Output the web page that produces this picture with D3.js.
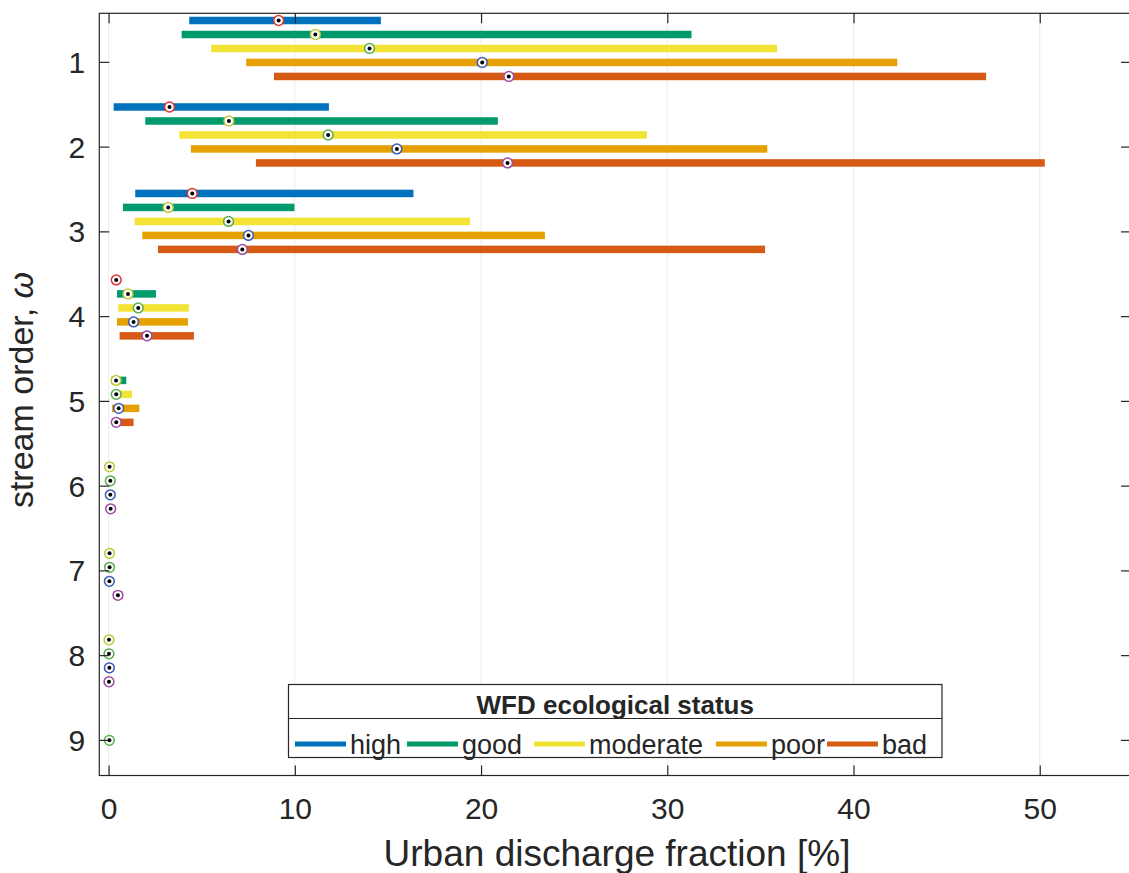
<!DOCTYPE html>
<html>
<head>
<meta charset="utf-8">
<script src="https://cdn.jsdelivr.net/npm/d3@7"></script>
<style>
  html, body { margin: 0; padding: 0; background: #fff; }
  svg { display: block; }
  text { font-family: "Liberation Sans", Arial, Helvetica, sans-serif; fill: #262626; }
</style>
</head>
<body>
<svg id="chart" width="1129" height="873"></svg>
<script>
// ---------------- data ----------------
const statuses = ["high", "good", "moderate", "poor", "bad"];
const streamOrders = [1, 2, 3, 4, 5, 6, 7, 8, 9];
const xTicks = [0, 10, 20, 30, 40, 50];
const yTicks = [1, 2, 3, 4, 5, 6, 7, 8, 9];

// lower bound, median and upper bound of urban discharge fraction [%] per stream order
const highLow    = [4.33, 0.27, 1.43, 0.41, null, null, null, null, null];
const highMed    = [9.13, 3.27, 4.49, 0.41, null, null, null, null, null];
const highHigh   = [14.62, 11.83, 16.37, 0.41, null, null, null, null, null];

const goodLow    = [3.92, 1.97, 0.77, 0.45, 0.15, 0.0, 0.0, 0.0, null];
const goodMed    = [11.1, 6.46, 3.2, 1.04, 0.40, 0.05, 0.05, 0.02, null];
const goodHigh   = [31.3, 20.9, 9.98, 2.54, 0.95, 0.1, 0.1, 0.05, null];

const moderateLow  = [5.51, 3.80, 1.40, 0.52, 0.15, 0.02, 0.0, 0.0, 0.0];
const moderateMed  = [14.01, 11.79, 6.44, 1.59, 0.41, 0.09, 0.05, 0.02, 0.04];
const moderateHigh = [35.9, 28.9, 19.4, 4.31, 1.26, 0.2, 0.1, 0.05, 0.06];

const poorLow    = [7.39, 4.42, 1.81, 0.45, 0.18, 0.02, 0.0, 0.0, null];
const poorMed    = [20.06, 15.48, 7.51, 1.34, 0.54, 0.09, 0.04, 0.04, null];
const poorHigh   = [42.35, 35.37, 23.43, 4.26, 1.65, 0.2, 0.1, 0.08, null];

const badLow     = [8.88, 7.91, 2.65, 0.59, 0.2, 0.05, 0.24, 0.0, null];
const badMed     = [21.49, 21.42, 7.18, 2.06, 0.41, 0.11, 0.5, 0.02, null];
const badHigh    = [47.12, 50.27, 35.25, 4.58, 1.34, 0.2, 0.77, 0.05, null];

const barColors    = ["#0072BD", "#009A6C", "#F2E334", "#E6A000", "#D65A14"];
const markerColors = ["#E0342C", "#C2C83A", "#58AF4E", "#3D5BB5", "#9C4DA2"];

const seriesLow  = [highLow, goodLow, moderateLow, poorLow, badLow];
const seriesMed  = [highMed, goodMed, moderateMed, poorMed, badMed];
const seriesHigh = [highHigh, goodHigh, moderateHigh, poorHigh, badHigh];

(function () {
// ---------------- layout ----------------
const svg = d3.select("#chart");
const pL = 99.3, pR = 1131, pT = 13.3, pB = 775.5;

const x = d3.scaleLinear().domain([-0.5, 54.9]).range([pL, pR]);
const y = d3.scaleLinear().domain([0.427, 9.42]).range([pT, pB]);

// row position within each stream-order group
const rowPos = (w, k) => w - 0.488 + (w - 1) * 0.0203 + k * 0.165;

const rows = [];
statuses.forEach((s, k) => {
  streamOrders.forEach((w, i) => {
    if (seriesMed[k][i] == null) return;
    rows.push({ status: s, k, w, lo: seriesLow[k][i], med: seriesMed[k][i], hi: seriesHigh[k][i] });
  });
});

// grid
svg.append("g").selectAll("line").data(xTicks).join("line")
  .attr("x1", d => x(d)).attr("x2", d => x(d))
  .attr("y1", pT).attr("y2", pB)
  .attr("stroke", "#ebebeb").attr("stroke-width", 1);

// bars
const barH = 7.5;
svg.append("g").selectAll("rect").data(rows).join("rect")
  .attr("x", d => x(d.lo))
  .attr("width", d => Math.max(0, x(d.hi) - x(d.lo)))
  .attr("y", d => y(rowPos(d.w, d.k)) - barH / 2)
  .attr("height", barH)
  .attr("fill", d => barColors[d.k]);

// markers
const mk = svg.append("g").selectAll("g").data(rows).join("g")
  .attr("transform", d => `translate(${x(d.med)},${y(rowPos(d.w, d.k))})`);
mk.append("circle").attr("r", 4.9).attr("fill", "#fff")
  .attr("stroke", d => markerColors[d.k]).attr("stroke-width", 1.5);
mk.append("circle").attr("r", 2).attr("fill", "#000");

// axes
const axCol = "#262626";
const tickLen = 10;
svg.append("rect").attr("x", pL).attr("y", pT).attr("width", pR - pL).attr("height", pB - pT)
  .attr("fill", "none").attr("stroke", axCol).attr("stroke-width", 1.2);

const gb = svg.append("g").attr("transform", `translate(0,${pB})`)
  .call(d3.axisBottom(x).tickValues(xTicks).tickSizeInner(-tickLen).tickSizeOuter(0).tickPadding(22));
const gt = svg.append("g").attr("transform", `translate(0,${pT})`)
  .call(d3.axisTop(x).tickValues(xTicks).tickSizeInner(-tickLen).tickSizeOuter(0).tickFormat(""));
const gl = svg.append("g").attr("transform", `translate(${pL},0)`)
  .call(d3.axisLeft(y).tickValues(yTicks).tickSizeInner(-tickLen).tickSizeOuter(0).tickPadding(14));
const gr = svg.append("g").attr("transform", `translate(${pR},0)`)
  .call(d3.axisRight(y).tickValues(yTicks).tickSizeInner(-tickLen).tickSizeOuter(0).tickFormat(""));

[gb, gt, gl, gr].forEach(g => {
  g.select(".domain").remove();
  g.selectAll(".tick line").attr("stroke", axCol).attr("stroke-width", 1.2);
  g.selectAll(".tick text").attr("font-size", 30).attr("fill", axCol)
    .style("font-family", '"Liberation Sans", Arial, sans-serif');
});
gb.selectAll(".tick text").attr("dy", "0.71em");
gl.selectAll(".tick text").attr("dy", "0.35em");

// axis labels
svg.append("text")
  .attr("x", 617).attr("y", 866)
  .attr("text-anchor", "middle").attr("font-size", 37)
  .text("Urban discharge fraction [%]");

const yl = svg.append("text")
  .attr("transform", `translate(33,390) rotate(-90)`)
  .attr("text-anchor", "middle").attr("font-size", 34);
yl.append("tspan").text("stream order, ");
yl.append("tspan").attr("font-style", "italic").text("ω");

// legend
const lg = svg.append("g");
const lx0 = 288.5, lx1 = 942, ly0 = 684.5, ly1 = 757.5, ldiv = 718.5;
lg.append("rect").attr("x", lx0).attr("y", ly0).attr("width", lx1 - lx0).attr("height", ly1 - ly0)
  .attr("fill", "#fff").attr("stroke", axCol).attr("stroke-width", 1.2);
lg.append("line").attr("x1", lx0).attr("x2", lx1).attr("y1", ldiv).attr("y2", ldiv)
  .attr("stroke", axCol).attr("stroke-width", 1.2);
lg.append("text").attr("x", (lx0 + lx1) / 2).attr("y", 714)
  .attr("text-anchor", "middle").attr("font-size", 26).attr("font-weight", "bold")
  .text("WFD ecological status");

const legendStarts = [295, 407, 534, 716, 827];
const le = lg.selectAll("g.entry").data(statuses).join("g").attr("class", "entry")
  .attr("transform", (d, i) => `translate(${legendStarts[i]},744)`);
le.append("line").attr("x1", 0).attr("x2", 51).attr("y1", 0).attr("y2", 0)
  .attr("stroke", (d, i) => barColors[i]).attr("stroke-width", 5);
le.append("text").attr("x", 55).attr("y", 9.5).attr("font-size", 27).text(d => d);
})();
</script>
</body>
</html>
